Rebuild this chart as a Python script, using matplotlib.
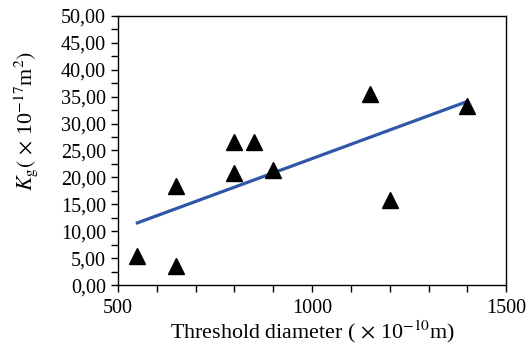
import matplotlib
matplotlib.use("Agg")
import matplotlib.pyplot as plt
import numpy as np
from matplotlib.ticker import MultipleLocator, FuncFormatter

# threshold diameter (x10^-10 m) vs Kg (x10^-17 m^2)
diameter = np.array([550, 650, 650, 800, 800, 850, 900, 1150, 1200, 1400])
kg = np.array([5.4, 3.5, 18.4, 26.6, 20.9, 26.5, 21.3, 35.4, 15.8, 33.3])

plt.rcParams['font.family'] = ['Liberation Serif', 'DejaVu Serif']
plt.rcParams['mathtext.fontset'] = 'stix'

fig = plt.figure(figsize=(5.29, 3.52), dpi=100)
ax = fig.add_axes([0.223, 0.19, 0.734, 0.765])

# linear trend line
coef = np.polyfit(diameter, kg, 1)
xl = np.array([diameter.min(), diameter.max()])
ax.plot(xl, np.polyval(coef, xl), color='#2F57A8', lw=2.3, zorder=2)

ax.plot(diameter, kg, linestyle='none', marker='^', ms=12,
        color='black', zorder=3)

ax.set_xlim(500, 1500)
ax.set_ylim(0, 50)
ax.xaxis.set_major_locator(MultipleLocator(500))
ax.xaxis.set_minor_locator(MultipleLocator(100))
ax.yaxis.set_major_locator(MultipleLocator(5))
ax.yaxis.set_minor_locator(MultipleLocator(2.5))
ax.yaxis.set_major_formatter(FuncFormatter(lambda v, _: f"{v:.2f}".replace('.', ',')))

ax.tick_params(which='both', direction='out', length=5, width=1, labelsize=14.5)
ax.tick_params(axis='x', which='major', pad=5)
for s in ax.spines.values():
    s.set_linewidth(1)

ax.set_xlabel(r'Threshold diameter ($\,\times\,$10$^{-10}$m)', fontsize=15.8, labelpad=0)
ax.set_ylabel(r'$K_{\mathrm{g}}(\,\times\,$10$^{-17}$m$^{2})$', fontsize=15.8)
ax.yaxis.set_label_coords(-0.2, 0.61)

fig.savefig('out.png', dpi=100)
